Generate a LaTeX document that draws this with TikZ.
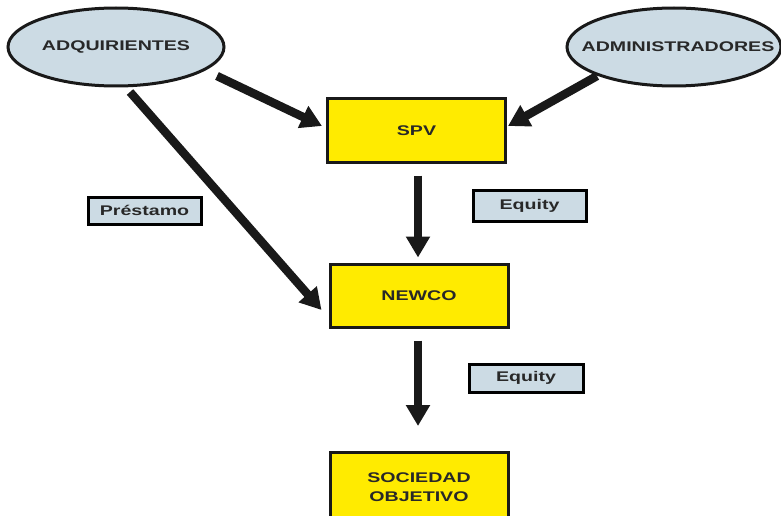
\documentclass[tikz,border=0pt]{standalone}
\usepackage{fontspec}
\usetikzlibrary{shapes.geometric,arrows.meta}
\newfontfamily\labfont[FakeStretch=1.4]{Liberation Sans}
\definecolor{ellfill}{RGB}{204,219,228}
\definecolor{boxyellow}{RGB}{255,235,0}
\definecolor{txtgray}{RGB}{40,40,40}
\begin{document}
\begin{tikzpicture}[x=1pt,y=-1pt,
  every node/.style={font=\labfont\bfseries\fontsize{14}{19}\selectfont, text=txtgray, align=center},
  party/.style={ellipse, draw=black!90, line width=3pt, fill=ellfill, inner sep=0pt},
  entity/.style={rectangle, draw=black!90, line width=3pt, fill=boxyellow, inner sep=0pt, minimum width=178pt, minimum height=63pt},
  tag/.style={rectangle, draw=black, line width=3pt, fill=ellfill, inner sep=0pt},
  arr/.style={line width=8.5pt, draw=black!90, -{Triangle[length=21pt,width=23pt]}}
]
\useasboundingbox (0,0) rectangle (781,516);
\clip (0,0) rectangle (781,516);
\node[party, minimum width=216pt, minimum height=78pt, label=center:{ADQUIRIENTES}] (adq) at (116,47) {};
\node[party, minimum width=214pt, minimum height=78pt, label={[xshift=4pt]center:{ADMINISTRADORES}}] (adm) at (674,47) {};
\node[entity] (spv) at (416.5,130.5) {SPV};
\node[entity] (newco) at (419,295.5) {NEWCO};
\node[entity, minimum height=69pt] (soc) at (419,487) {SOCIEDAD\\OBJETIVO};
\node[tag, minimum width=113pt, minimum height=31pt] (eq1) at (529.5,205.5) {Equity};
\node[tag, minimum width=114pt, minimum height=28pt] (eq2) at (526,378) {Equity};
\node[tag, minimum width=113pt, minimum height=27pt] (pre) at (144.5,210.5) {Préstamo};
\draw[arr] ([shift={(101,29)}]adq.center) -- ([shift={(-4,-4.5)}]spv.west);
\draw[arr] ([shift={(-77,29)}]adm.center) -- ([shift={(1,-4.5)}]spv.east);
\draw[arr] ([shift={(1.5,12)}]spv.south) -- ([shift={(-1,-5)}]newco.north);
\draw[arr] ([shift={(14,45)}]adq.center) -- ([shift={(-7,14.5)}]newco.west);
\draw[arr] ([shift={(-1,12)}]newco.south) -- ([shift={(-1,-25)}]soc.north);
\end{tikzpicture}
\end{document}
